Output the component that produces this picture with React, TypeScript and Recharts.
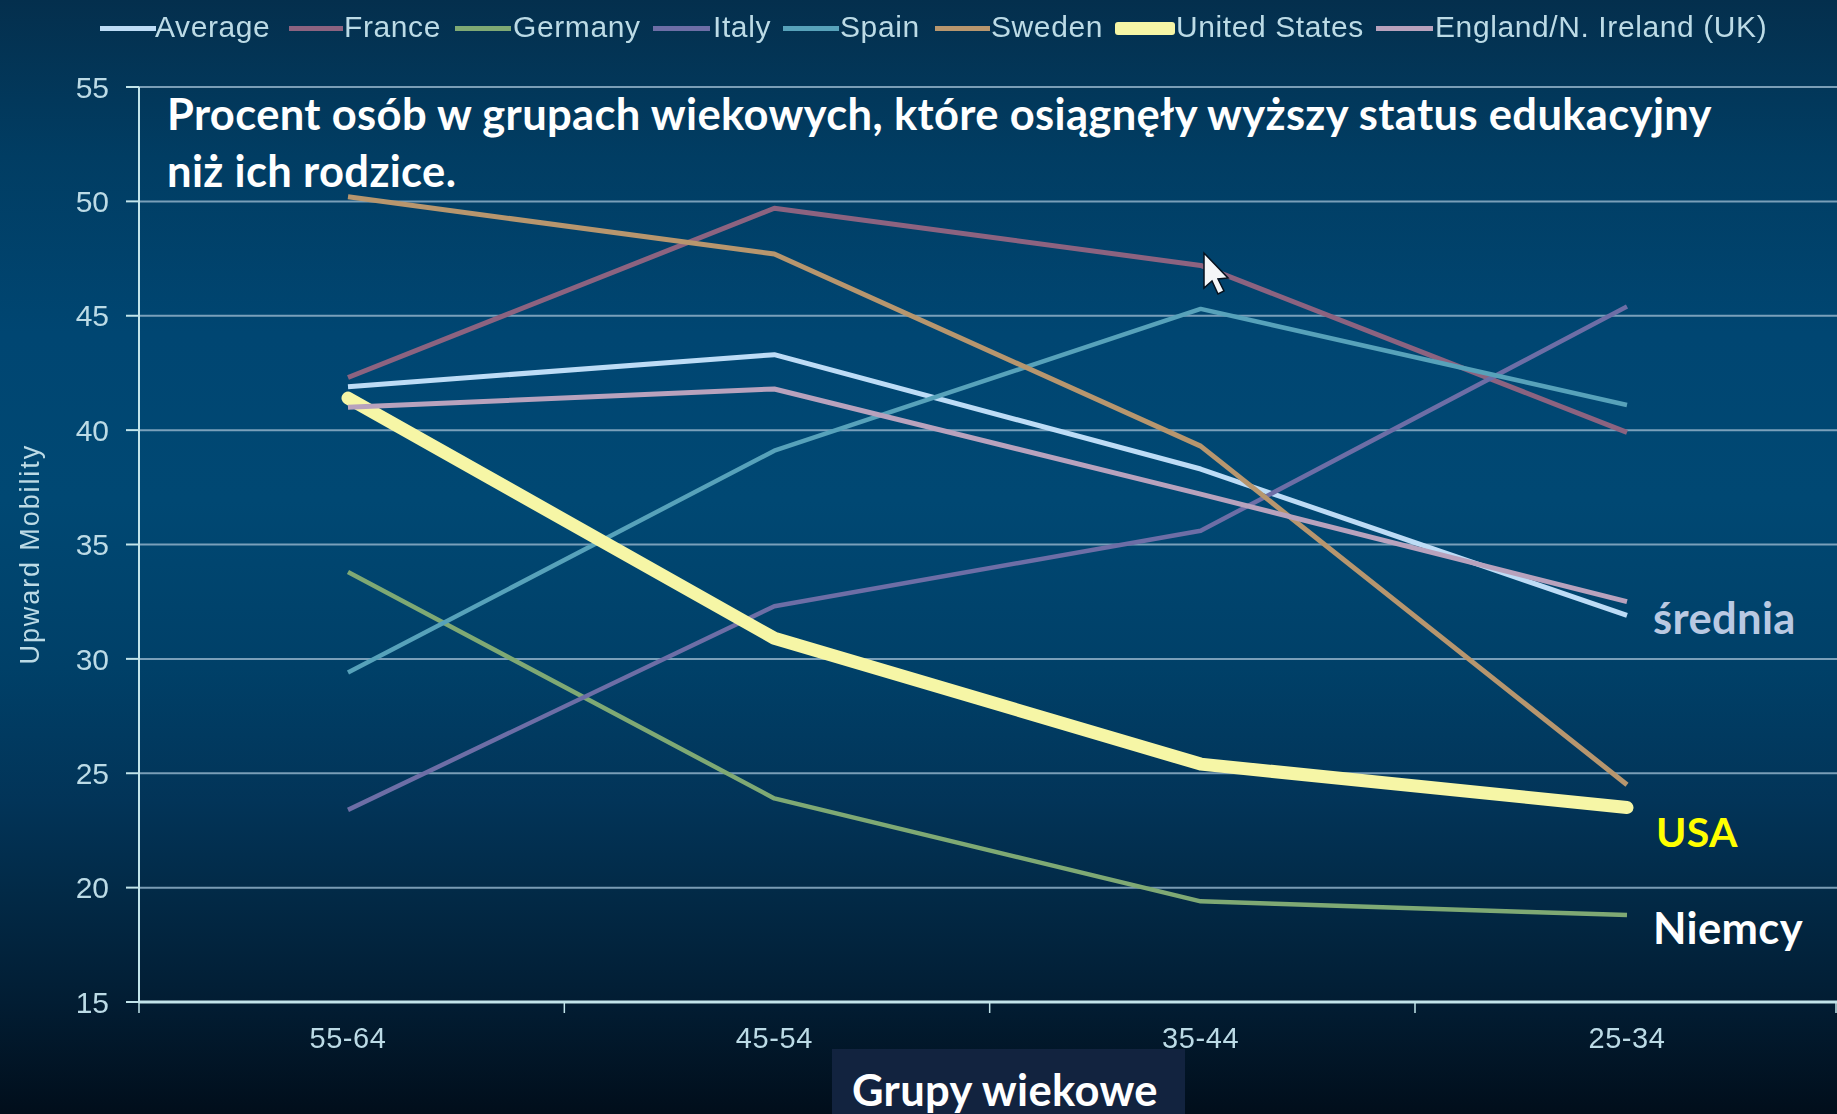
import React from "react";
import { LineChart, Line, XAxis, YAxis, CartesianGrid, Legend } from "recharts";

const ageGroups = ["55-64", "45-54", "35-44", "25-34"];
const yTicks = [15, 20, 25, 30, 35, 40, 45, 50, 55];

const average = [41.9, 43.3, 38.3, 31.9];
const france = [42.3, 49.7, 47.2, 39.9];
const germany = [33.8, 23.9, 19.4, 18.8];
const italy = [23.4, 32.3, 35.6, 45.4];
const spain = [29.4, 39.1, 45.3, 41.1];
const sweden = [50.2, 47.7, 39.3, 24.5];
const unitedStates = [41.4, 30.9, 25.4, 23.5];
const englandUK = [41.0, 41.8, 37.2, 32.5];

const series = [
  { name: "Average", values: average, color: "#bddcf6", width: 5, swatch: 100, text: 155, swW: 56 },
  { name: "France", values: france, color: "#8c6380", width: 5, swatch: 289, text: 344, swW: 54 },
  { name: "Germany", values: germany, color: "#7fa974", width: 4.5, swatch: 455, text: 513, swW: 56 },
  { name: "Italy", values: italy, color: "#6d6ea6", width: 4.5, swatch: 653, text: 713, swW: 57 },
  { name: "Spain", values: spain, color: "#57a2ba", width: 4.5, swatch: 783, text: 840, swW: 56 },
  { name: "Sweden", values: sweden, color: "#b7966e", width: 5, swatch: 935, text: 991, swW: 55 },
  { name: "United States", values: unitedStates, color: "#f6f6a6", width: 13, swatch: 1115, text: 1176, swW: 60 },
  { name: "England/N. Ireland (UK)", values: englandUK, color: "#b8a2bd", width: 5, swatch: 1376, text: 1435, swW: 57 },
];

const rows = ageGroups.map((group, i) => {
  const row: Record<string, string | number> = { group };
  series.forEach((s) => {
    row[s.name] = s.values[i];
  });
  return row;
});

const AXIS_FONT = "'Liberation Sans', Arial, sans-serif";
const NOTE_FONT = "Lato, 'Open Sans', sans-serif";
const TEXT_COLOR = "#bcdbe6";
const AXIS_COLOR = "#c2e4ea";

const XTick = (props: any) => {
  const { x, y, payload, index } = props;
  const off = 209 + index;
  return (
    <g>
      <line x1={x - off} x2={x - off} y1={y} y2={y + 11} stroke={AXIS_COLOR} strokeWidth={1.5} />
      {index === ageGroups.length - 1 && (
        <line x1={1836} x2={1836} y1={y} y2={y + 11} stroke={AXIS_COLOR} strokeWidth={1.5} />
      )}
      <text
        x={x}
        y={y + 46}
        textAnchor="middle"
        fill={TEXT_COLOR}
        style={{ fontFamily: AXIS_FONT, fontSize: 29, letterSpacing: 0.6 }}
      >
        {payload.value}
      </text>
    </g>
  );
};

const LegendContent = (props: any) => (
  <div style={{ position: "relative", width: 1837, height: 60 }}>
    {(props.payload || []).map((entry: any) => {
      const s = series.find((it) => it.name === entry.value)!;
      return (
        <React.Fragment key={entry.value}>
          <div
            style={{
              position: "absolute",
              left: s.swatch,
              top: 28.5 - s.width / 2,
              width: s.swW,
              height: s.width,
              background: entry.color,
              borderRadius: s.width > 6 ? 3 : 0,
            }}
          />
          <div
            style={{
              position: "absolute",
              left: s.text,
              top: 10,
              fontFamily: AXIS_FONT,
              fontSize: 30,
              lineHeight: "34px",
              letterSpacing: 0.6,
              color: TEXT_COLOR,
              whiteSpace: "nowrap",
            }}
          >
            {entry.value}
          </div>
        </React.Fragment>
      );
    })}
  </div>
);

const noteStyle = { fontFamily: NOTE_FONT, fontWeight: 700, fontSize: 43.5, letterSpacing: 0.35 };

export default function App() {
  return (
    <div
      style={{
        position: "absolute",
        left: 0,
        top: 0,
        width: 1837,
        height: 1114,
        overflow: "hidden",
        background:
          "linear-gradient(180deg, #042f4d 0%, #013d63 14%, #004672 30%, #004873 45%, #004068 60%, #023458 72%, #022a47 80%, #021d33 90%, #010e1b 100%)",
      }}
    >
      <div style={{ position: "absolute", left: 0, top: 0, filter: "blur(0.7px)" }}>
        <LineChart
          width={1837}
          height={1114}
          data={rows}
          margin={{ top: 27, right: 0, bottom: 0, left: 0 }}
          style={{ background: "transparent" }}
        >
          <CartesianGrid vertical={false} stroke="#8fb0c8" strokeWidth={2} strokeOpacity={0.85} />
          <XAxis
            dataKey="group"
            scale="point"
            padding={{ left: 209, right: 210 }}
            height={112}
            tickLine={false}
            axisLine={{ stroke: AXIS_COLOR, strokeWidth: 3 }}
            tick={<XTick />}
            tickMargin={0}
            tickSize={0}
            interval={0}
          />
          <YAxis
            domain={[15, 55]}
            ticks={yTicks}
            width={139}
            interval={0}
            axisLine={{ stroke: AXIS_COLOR, strokeWidth: 2 }}
            tickLine={{ stroke: AXIS_COLOR, strokeWidth: 2 }}
            tickSize={13}
            tickMargin={17}
            tick={{ fill: TEXT_COLOR, fontFamily: AXIS_FONT, fontSize: 30 }}
            label={{
              value: "Upward Mobility",
              angle: -90,
              position: "insideLeft",
              offset: 29,
              dy: 120,
              style: { fill: TEXT_COLOR, fontFamily: AXIS_FONT, fontSize: 27, letterSpacing: 1.9 },
            }}
          />
          <Legend verticalAlign="top" align="left" content={<LegendContent />} wrapperStyle={{ left: 0, top: 0, width: 1837 }} />
          {series.map((s) => (
            <Line
              key={s.name}
              type="linear"
              dataKey={s.name}
              stroke={s.color}
              strokeWidth={s.width}
              strokeLinecap={s.width > 6 ? "round" : "butt"}
              strokeLinejoin="round"
              dot={false}
              activeDot={false}
              isAnimationActive={false}
            />
          ))}
        </LineChart>
      </div>
      <svg width={1837} height={1114} style={{ position: "absolute", left: 0, top: 0 }}>
        <rect x={832} y={1049} width={353} height={65} fill="#12233f" />
        <g style={noteStyle}>
          <text x={167} y={130} fill="#ffffff">
            Procent osób w grupach wiekowych, które osiągnęły wyższy status edukacyjny
          </text>
          <text x={167} y={187} fill="#ffffff">
            niż ich rodzice.
          </text>
          <text x={852} y={1106} fill="#ffffff">
            Grupy wiekowe
          </text>
          <text x={1653} y={634} fill="#b9c9e2">
            średnia
          </text>
          <text x={1656} y={847} fill="#ffff00" fontSize={41} style={{ fontSize: 41 }}>
            USA
          </text>
          <text x={1653} y={944} fill="#ffffff">
            Niemcy
          </text>
        </g>
        <path
          d="M1204 253 L1204 288 L1212 281 L1218 294 L1224 291 L1218 279 L1228 278 Z"
          fill="#f4f6f8"
          stroke="#06121f"
          strokeWidth={1.5}
        />
      </svg>
    </div>
  );
}
